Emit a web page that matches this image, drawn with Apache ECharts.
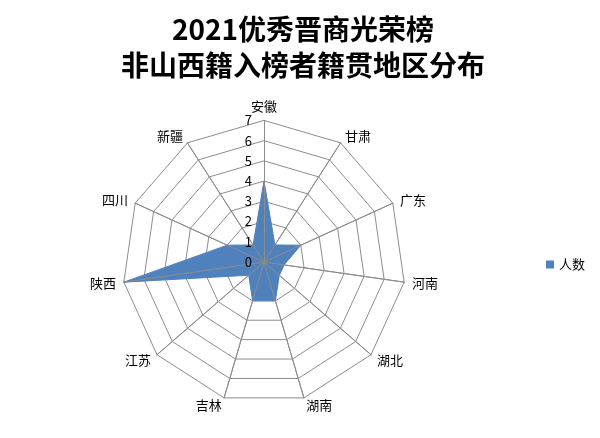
<!DOCTYPE html>
<html><head><meta charset="utf-8">
<script src="https://cdn.jsdelivr.net/npm/echarts@6/dist/echarts.min.js"></script>
<style>html,body{margin:0;padding:0;background:#fff}#c{width:600px;height:438px}</style>
</head><body><div id="c"></div>
<script>
const categories = ['安徽','甘肃','广东','河南','湖北','湖南','吉林','江苏','陕西','四川','新疆'];
const values = [4,1,2,1,1,2,2,1,7,2,1];
const seriesName = '人数';
const maxValue = 7;
const titleLines = ['2021优秀晋商光荣榜','非山西籍入榜者籍贯地区分布'];

// ECharts radar runs counter-clockwise; reorder so the picture runs clockwise
const order = [0].concat(categories.map((_, i) => i).slice(1).reverse());
const cats = order.map(i => categories[i]);
const vals = order.map(i => values[i]);

const chart = echarts.init(document.getElementById('c'));
const font = '"Noto Sans CJK SC", "Liberation Sans", sans-serif';
const baseRadar = {
  center: [264, 262], radius: 141.6, startAngle: 90,
  splitNumber: 7, shape: 'polygon'
};
chart.setOption({
  backgroundColor: '#fff',
  animation: false,
  title: {
    text: titleLines.join('\n'),
    left: 298, top: 6, textAlign: 'center',
    textStyle: {fontFamily: font, fontSize: 28, fontWeight: 'bold', color: '#000', lineHeight: 36}
  },
  legend: {
    data: [seriesName], orient: 'vertical', left: 541, top: 253,
    icon: 'rect', itemWidth: 8, itemHeight: 8, itemGap: 5,
    textStyle: {fontFamily: font, fontSize: 13, color: '#000'}
  },
  radar: [
    Object.assign({}, baseRadar, {
      z: 1,
      indicator: cats.map(n => ({name: n, min: 0, max: maxValue})),
      axisName: {color: '#000', fontFamily: font, fontSize: 13},
      nameGap: 8,
      axisLine: {lineStyle: {color: '#8c8c8c', width: 1}},
      splitLine: {lineStyle: {color: '#8c8c8c', width: 1}},
      splitArea: {show: false},
      axisTick: {show: false},
      axisLabel: {show: false}
    }),
    Object.assign({}, baseRadar, {
      z: 5,
      indicator: cats.map((n, i) => i === 0
        ? {name: n, min: 0, max: maxValue, axisLabel: {show: true}}
        : {name: n, min: 0, max: maxValue}),
      axisName: {show: false},
      axisLine: {lineStyle: {color: '#8c8c8c', width: 1}},
      splitLine: {show: false},
      splitArea: {show: false},
      axisTick: {show: false},
      axisLabel: {show: false, color: '#000', fontFamily: font, fontSize: 13, margin: 12}
    })
  ],
  series: [{
    type: 'radar', name: seriesName, symbol: 'none', radarIndex: 0, z: 3,
    lineStyle: {color: '#4f81bd', width: 1},
    itemStyle: {color: '#4f81bd'},
    areaStyle: {color: '#4f81bd', opacity: 1},
    data: [{value: vals, name: seriesName}]
  }]
});
</script></body></html>
